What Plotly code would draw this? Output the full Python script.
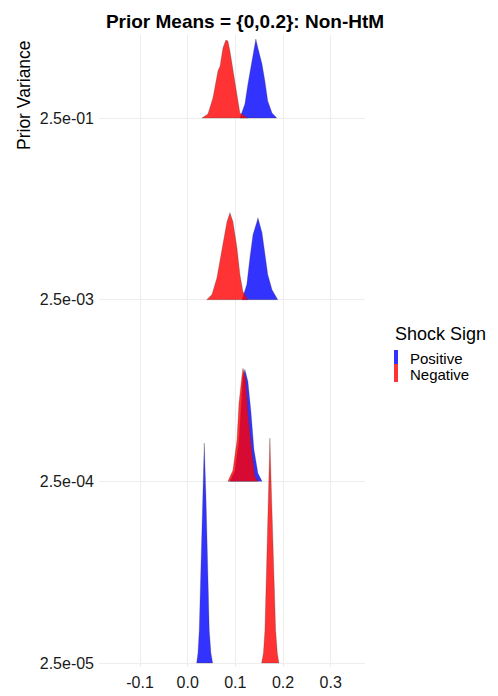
import plotly.graph_objects as go

# Categories (prior variance), bottom to top
variance_labels = ["2.5e-05", "2.5e-04", "2.5e-03", "2.5e-01"]
x_ticks = [-0.1, 0.0, 0.1, 0.2, 0.3]
x_tick_labels = ["-0.1", "0.0", "0.1", "0.2", "0.3"]

# Ridge profiles: x values and scaled density heights (in row units)
# Row 2.5e-01
pos_x_r3 = [0.1096, 0.120, 0.1264, 0.1348, 0.141, 0.143, 0.1474, 0.156, 0.162, 0.168, 0.177, 0.187]
pos_h_r3 = [0.0, 0.077, 0.187, 0.314, 0.424, 0.435, 0.385, 0.297, 0.204, 0.094, 0.028, 0.0]
neg_x_r3 = [0.030, 0.0425, 0.053, 0.0635, 0.068, 0.074, 0.080, 0.0845, 0.0887, 0.095, 0.1034, 0.1096, 0.1264]
neg_h_r3 = [0.0, 0.022, 0.110, 0.259, 0.286, 0.385, 0.429, 0.424, 0.369, 0.259, 0.110, 0.028, 0.0]
# Row 2.5e-03
pos_x_r2 = [0.1138, 0.124, 0.1306, 0.137, 0.1453, 0.1474, 0.156, 0.162, 0.168, 0.177, 0.189]
pos_h_r2 = [0.0, 0.083, 0.231, 0.358, 0.429, 0.451, 0.369, 0.248, 0.138, 0.055, 0.0]
neg_x_r2 = [0.040, 0.051, 0.0614, 0.072, 0.0824, 0.0887, 0.095, 0.1034, 0.1096, 0.116, 0.1264]
neg_h_r2 = [0.0, 0.028, 0.121, 0.286, 0.429, 0.479, 0.429, 0.286, 0.138, 0.044, 0.0]
# Row 2.5e-04
pos_x_r1 = [0.0887, 0.099, 0.1076, 0.112, 0.116, 0.120, 0.1264, 0.1327, 0.139, 0.1474, 0.156]
pos_h_r1 = [0.0, 0.055, 0.220, 0.429, 0.572, 0.616, 0.550, 0.385, 0.176, 0.044, 0.0]
neg_x_r1 = [0.0845, 0.095, 0.1034, 0.1076, 0.1138, 0.116, 0.122, 0.1264, 0.1348, 0.141, 0.1474]
neg_h_r1 = [0.0, 0.061, 0.226, 0.429, 0.578, 0.622, 0.556, 0.374, 0.154, 0.028, 0.0]
# Row 2.5e-05
pos_x_r0 = [0.0189, 0.0216, 0.0243, 0.0279, 0.0314, 0.0348, 0.0384, 0.0411, 0.0453, 0.0488, 0.0524]
pos_h_r0 = [0.0, 0.055, 0.182, 0.550, 0.914, 1.211, 0.914, 0.550, 0.182, 0.055, 0.0]
neg_x_r0 = [0.1551, 0.159, 0.1621, 0.1662, 0.169, 0.1725, 0.176, 0.1795, 0.1845, 0.188, 0.1914]
neg_h_r0 = [0.0, 0.055, 0.182, 0.550, 0.914, 1.238, 0.914, 0.550, 0.182, 0.055, 0.0]

rows = [
    (3, pos_x_r3, pos_h_r3, neg_x_r3, neg_h_r3),
    (2, pos_x_r2, pos_h_r2, neg_x_r2, neg_h_r2),
    (1, pos_x_r1, pos_h_r1, neg_x_r1, neg_h_r1),
    (0, pos_x_r0, pos_h_r0, neg_x_r0, neg_h_r0),
]

POS_FILL = "rgba(0,0,255,0.8)"
NEG_FILL = "rgba(255,0,0,0.8)"
EDGE = "rgba(60,60,60,0.45)"

fig = go.Figure()
for base, px, ph, nx, nh in rows:
    for xs, hs, col in ((px, ph, POS_FILL), (nx, nh, NEG_FILL)):
        fig.add_trace(go.Scatter(
            x=xs + [xs[-1], xs[0]],
            y=[base + h for h in hs] + [base, base],
            mode="lines", fill="toself", fillcolor=col,
            line=dict(color=EDGE, width=0.6),
            hoverinfo="skip", showlegend=False,
        ))

W, H = 498, 696
L, R, T, B = 99, 133, 35, 29
plot_h = H - T - B
plot_w = W - L - R

fig.update_layout(
    width=W, height=H, autosize=False,
    margin=dict(l=L, r=R, t=T, b=B, pad=0, autoexpand=False),
    paper_bgcolor="white", plot_bgcolor="white",
    font=dict(family="Liberation Sans, Arial, sans-serif", color="#1a1a1a"),
    title=dict(text="<b>Prior Means = {0,0.2}: Non-HtM</b>", x=245 / W, xref="container",
               xanchor="center", y=1 - 21 / H, yref="container", yanchor="middle",
               font=dict(size=19, color="black"), automargin=False),
    showlegend=False,
    xaxis=dict(range=[-0.186, 0.372], tickvals=x_ticks, ticktext=x_tick_labels,
               showgrid=True, gridcolor="#ededed", gridwidth=1, zeroline=False,
               showline=False, ticks="", tickfont=dict(size=16, color="#1a1a1a"),
               ticklabelstandoff=4, automargin=False),
    yaxis=dict(range=[-0.022, 3.457], tickvals=[0, 1, 2, 3], ticktext=variance_labels,
               showgrid=True, gridcolor="#ededed", gridwidth=1, zeroline=False,
               showline=False, ticks="", tickfont=dict(size=16, color="#1a1a1a"),
               ticklabelstandoff=4, automargin=False),
)

# Y axis title (top aligned, like the reference)
fig.add_annotation(text="Prior Variance", textangle=-90, xref="paper", yref="paper",
                   x=(24 - L) / plot_w, y=(H - B - 38) / plot_h, xanchor="center", yanchor="top",
                   showarrow=False, font=dict(size=17.5, color="black"))

# Legend (drawn manually to mimic ggplot key bars)
def px2paper(xp, yp):
    return (xp - L) / plot_w, (H - B - yp) / plot_h

lx, ly = px2paper(393, 334)
fig.add_annotation(text="Shock Sign", xref="paper", yref="paper", x=lx, y=ly,
                   xanchor="left", yanchor="middle", showarrow=False,
                   font=dict(size=18, color="black"))
for (label, col, y0, y1, yc) in (("Positive", POS_FILL, 350, 364, 358),
                                  ("Negative", NEG_FILL, 364, 382, 374)):
    x0p, y0p = px2paper(394, y0)
    x1p, y1p = px2paper(398, y1)
    fig.add_shape(type="rect", xref="paper", yref="paper", x0=x0p, x1=x1p, y0=y1p, y1=y0p,
                  fillcolor=col, line=dict(width=0))
    tx, ty = px2paper(408, yc)
    fig.add_annotation(text=label, xref="paper", yref="paper", x=tx, y=ty,
                       xanchor="left", yanchor="middle", showarrow=False,
                       font=dict(size=15, color="black"))

fig.write_html("out.html")
